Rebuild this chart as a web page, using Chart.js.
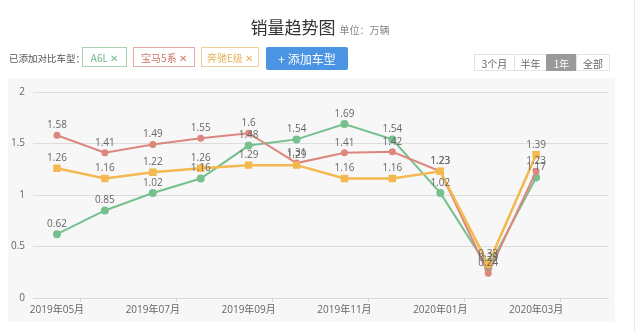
<!DOCTYPE html>
<html><head><meta charset="utf-8">
<script src="https://cdn.jsdelivr.net/npm/chart.js@4/dist/chart.umd.min.js"></script>
<style>
html,body{margin:0;padding:0;background:#fff;width:640px;height:332px;overflow:hidden;font-family:"Noto Sans CJK SC","Noto Sans",sans-serif;}
#wrap{position:relative;width:640px;height:332px;}
canvas{position:absolute;left:0;top:0;}
.abs{position:absolute;white-space:nowrap;}
#title{left:0;width:640px;top:14px;text-align:center;font-size:17px;color:#333;}
#title span{font-size:10px;color:#888;margin-left:4px;}
#lbl{left:9px;top:51px;font-size:9.5px;color:#555;}
.tag{position:absolute;top:47px;height:20px;line-height:20px;font-size:10px;text-align:center;box-sizing:border-box;border:1px solid;background:#fff;}
#add{position:absolute;left:266px;top:47px;width:82px;height:23px;line-height:23px;background:#4b94e3;color:#fff;font-size:12px;text-align:center;border-radius:2px;}
.rng{position:absolute;top:54px;height:17px;line-height:17px;font-size:10px;color:#666;text-align:center;border:1px solid #e3e3e3;box-sizing:border-box;background:#fff;}
#vline{position:absolute;left:634px;top:0;width:1px;height:332px;background:#eaeaea;}
</style></head>
<body><div id="wrap">
<canvas id="c" width="640" height="332"></canvas>
<div id="vline"></div>
<div class="abs" id="title">销量趋势图<span>单位：万辆</span></div>
<div class="abs" id="lbl">已添加对比车型：</div>
<div class="tag" style="left:82px;width:45px;border-color:#a8d4b4;color:#6fb884;">A6L ✕</div>
<div class="tag" style="left:133px;width:62px;border-color:#e2aaa5;color:#d2766c;">宝马5系 ✕</div>
<div class="tag" style="left:201px;width:58px;border-color:#f0d09a;color:#e6b35a;">奔驰E级 ✕</div>
<div id="add">+ 添加车型</div>
<div class="rng" style="left:474px;width:41px;">3个月</div>
<div class="rng" style="left:514px;width:33px;">半年</div>
<div class="rng" style="left:546px;width:31px;background:#9a9a9a;color:#fff;border-color:#9a9a9a;">1年</div>
<div class="rng" style="left:576px;width:34px;">全部</div>
</div>
<script>
const categories = ["2019年05月","2019年06月","2019年07月","2019年08月","2019年09月","2019年10月","2019年11月","2019年12月","2020年01月","2020年02月","2020年03月","2020年04月"];
const a6l   = [0.62, 0.85, 1.02, 1.16, 1.48, 1.54, 1.69, 1.54, 1.02, 0.29, 1.17, null];
const bmw5  = [1.58, 1.41, 1.49, 1.55, 1.60, 1.31, 1.41, 1.42, 1.23, 0.24, 1.23, null];
const benzE = [1.26, 1.16, 1.22, 1.26, 1.29, 1.29, 1.16, 1.16, 1.23, 0.33, 1.39, null];
const yTicks = [0, 0.5, 1, 1.5, 2];

const panel = {
  id:'panel',
  beforeDraw(chart){
    const c = chart.ctx; c.save();
    c.fillStyle = '#f7f7f7'; c.fillRect(8,78,607,244);
    c.restore();
  }
};
const labels = {
  id:'labels',
  afterDatasetsDraw(chart){
    const c = chart.ctx; c.save();
    c.font = '10px "Open Sans", "DejaVu Sans", sans-serif';
    c.fillStyle = '#666'; c.textAlign = 'center'; c.textBaseline = 'bottom';
    chart.data.datasets.forEach((ds,i)=>{
      chart.getDatasetMeta(i).data.forEach((p,j)=>{
        const v = ds.data[j]; if (v==null) return;
        c.fillText(String(v), p.x, p.y - 5);
      });
    });
    c.restore();
  }
};
new Chart(document.getElementById('c'), {
  type:'line',
  data:{
    labels: categories,
    datasets:[
      {label:'奔驰E级', data:benzE, borderColor:'#f3b84f', backgroundColor:'#f3b84f', borderWidth:2.5, pointStyle:'rect', pointRadius:3.5, tension:0},
      {label:'宝马5系', data:bmw5, borderColor:'#dc877e', backgroundColor:'#dc877e', borderWidth:2, pointStyle:'circle', pointRadius:2.5, tension:0},
      {label:'A6L', data:a6l, borderColor:'#76c08e', backgroundColor:'#76c08e', borderWidth:2, pointStyle:'circle', pointRadius:3, tension:0}
    ]
  },
  options:{
    responsive:false, animation:false,
    layout:{padding:{left:0,right:32,top:92,bottom:0}},
    plugins:{legend:{display:false}, tooltip:{enabled:false}},
    scales:{
      x:{
        offset:true,
        afterFit(s){ s.height = 34; },
        grid:{drawOnChartArea:false, tickLength:4, offset:true,
          color:(ctx)=> (ctx.index % 2 === 1 ? '#d5d5d5' : 'rgba(0,0,0,0)')},
        border:{color:'#d9d9d9'},
        ticks:{autoSkip:false, maxRotation:0, padding:2,
          font:{size:10, family:'"Open Sans","Noto Sans CJK SC",sans-serif'}, color:'#666',
          callback:function(v,i){ return (i%2===0 && i<11) ? categories[i] : ''; }}
      },
      y:{
        min:0, max:2,
        afterFit(s){ s.width = 33; },
        afterBuildTicks(s){ s.ticks = yTicks.map(v=>({value:v})); },
        grid:{color:'#dcdcdc', drawTicks:false},
        border:{display:false},
        ticks:{padding:8, font:{size:10, family:'"Open Sans",sans-serif'}, color:'#666',
          callback:function(v){ return String(v); }}
      }
    }
  },
  plugins:[panel, labels]
});
</script>
</body></html>
